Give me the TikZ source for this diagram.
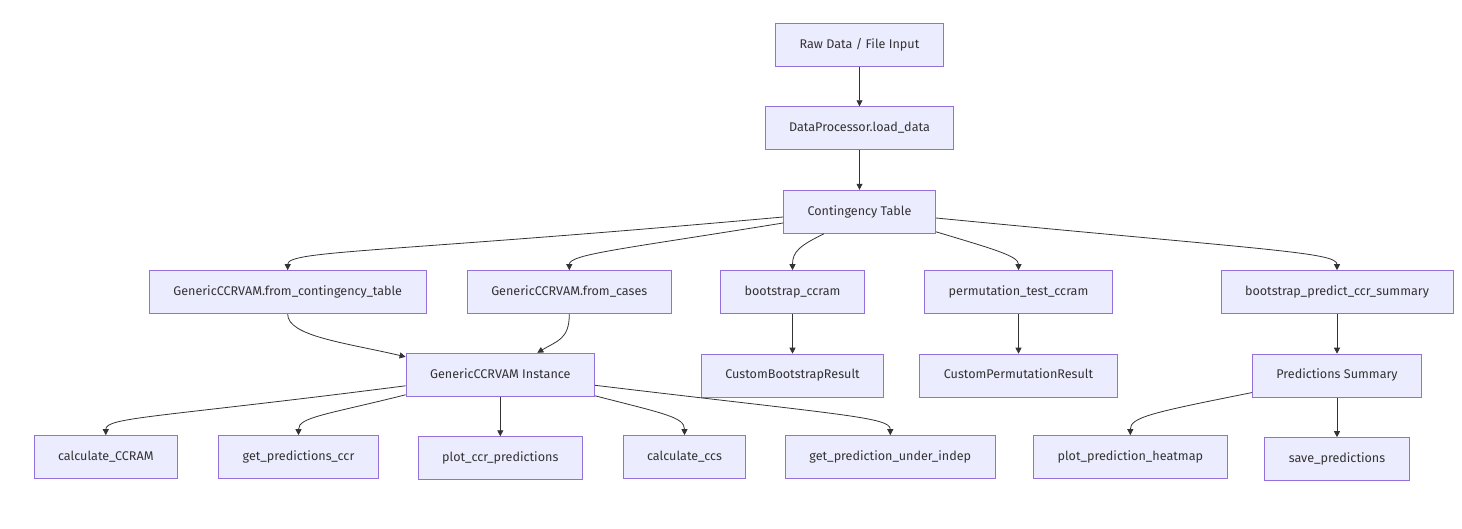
\documentclass[tikz,border=0pt]{standalone}
\usepackage{fontspec}
\setmainfont{Fira Sans}
\usetikzlibrary{positioning,arrows.meta}
\definecolor{boxfill}{HTML}{ECECFF}
\definecolor{boxline}{HTML}{9370DB}
\definecolor{ink}{HTML}{333333}

\begin{document}
\begin{tikzpicture}[x=1pt, y=1pt, node distance=39.5pt, box/.style={draw=boxline, fill=boxfill, rectangle, align=center, minimum height=43pt, inner xsep=24pt, text height=9pt, text depth=2.5pt, text=ink, font=\fontsize{12.6}{15}\selectfont, line width=1pt}, arrow/.style={draw=ink, -{Triangle[length=6pt, width=6pt]}, line width=0.8pt}]
    \useasboundingbox (0,0) rectangle (1462,-529);
    % nodes
    \node[box] (A) at (859.5,-44.8) {Raw Data / File Input};
    \node[box] (B) [below=of A] {DataProcessor.load\_data};
    \node[box] (C) [below=of B] {Contingency Table};
    \node[box] (D) at (287.7,-292.2) {GenericCCRVAM.from\_contingency\_table};
    \node[box] (E) at (569.3,-292.2) {GenericCCRVAM.from\_cases};
    \node[box] (F) at (792.5,-292.2) {bootstrap\_ccram};
    \node[box] (G) at (1018.5,-292.2) {permutation\_test\_ccram};
    \node[box] (H) at (1337,-292.2) {bootstrap\_predict\_ccr\_summary};
    \node[box] (I) at (500.3,-374.8) {GenericCCRVAM Instance};
    \node[box] (J) [below=of F] {CustomBootstrapResult};
    \node[box] (K) [below=of G] {CustomPermutationResult};
    \node[box] (L) [below=of H] {Predictions Summary};
    \node[box] (M) at (105.8,-457.2) {calculate\_CCRAM};
    \node[box] (N) at (298.5,-457.2) {get\_predictions\_ccr};
    \node[box] (O) [below=of I] {plot\_ccr\_predictions};
    \node[box] (P) at (684.5,-457.2) {calculate\_ccs};
    \node[box] (Q) at (890.3,-457.2) {get\_prediction\_under\_indep};
    \node[box] (R) at (1130.3,-457.2) {plot\_prediction\_heatmap};
    \node[box] (S) [below=of L] {save\_predictions};

    % arrows
    \draw[arrow] (A) -- (B);
    \draw[arrow] (B) -- (C);
    \draw[arrow] ([yshift=-5.2pt]C.west) .. controls +(-400,-36) and +(0,20) .. (D.north);
    \draw[arrow] ([yshift=-11.2pt]C.west) .. controls +(-160,-26) and +(0,16) .. (E.north);
    \draw[arrow] ([xshift=-35.5pt]C.south) .. controls +(-25,-12) and +(0,18) .. (F.north);
    \draw[arrow] ([yshift=2pt]C.south east) .. controls +(60,-18) and +(0,14) .. (G.north);
    \draw[arrow] ([yshift=-6.2pt]C.east) .. controls +(330,-32) and +(0,18) .. (H.north);
    \draw[arrow] (D.south) .. controls +(0,-22) and +(-60,14) .. ([yshift=18pt]I.west);
    \draw[arrow] (E.south) .. controls +(0,-25) and +(20,12) .. ([xshift=37pt]I.north);
    \draw[arrow] (F) -- (J);
    \draw[arrow] (G) -- (K);
    \draw[arrow] (H) -- (L);
    \draw[arrow] ([yshift=-11pt]I.west) .. controls +(-250,-32) and +(0,18) .. (M.north);
    \draw[arrow] ([yshift=2pt]I.south west) .. controls +(-80,-20) and +(0,18) .. (N.north);
    \draw[arrow] (I) -- (O);
    \draw[arrow] ([yshift=1pt]I.south east) .. controls +(70,-18) and +(0,18) .. (P.north);
    \draw[arrow] ([yshift=-10.5pt]I.east) .. controls +(250,-30) and +(0,18) .. (Q.north);
    \draw[arrow] ([yshift=-16.9pt]L.west) .. controls +(-100,-20) and +(0,18) .. (R.north);
    \draw[arrow] (L) -- (S);
\end{tikzpicture}
\end{document}
